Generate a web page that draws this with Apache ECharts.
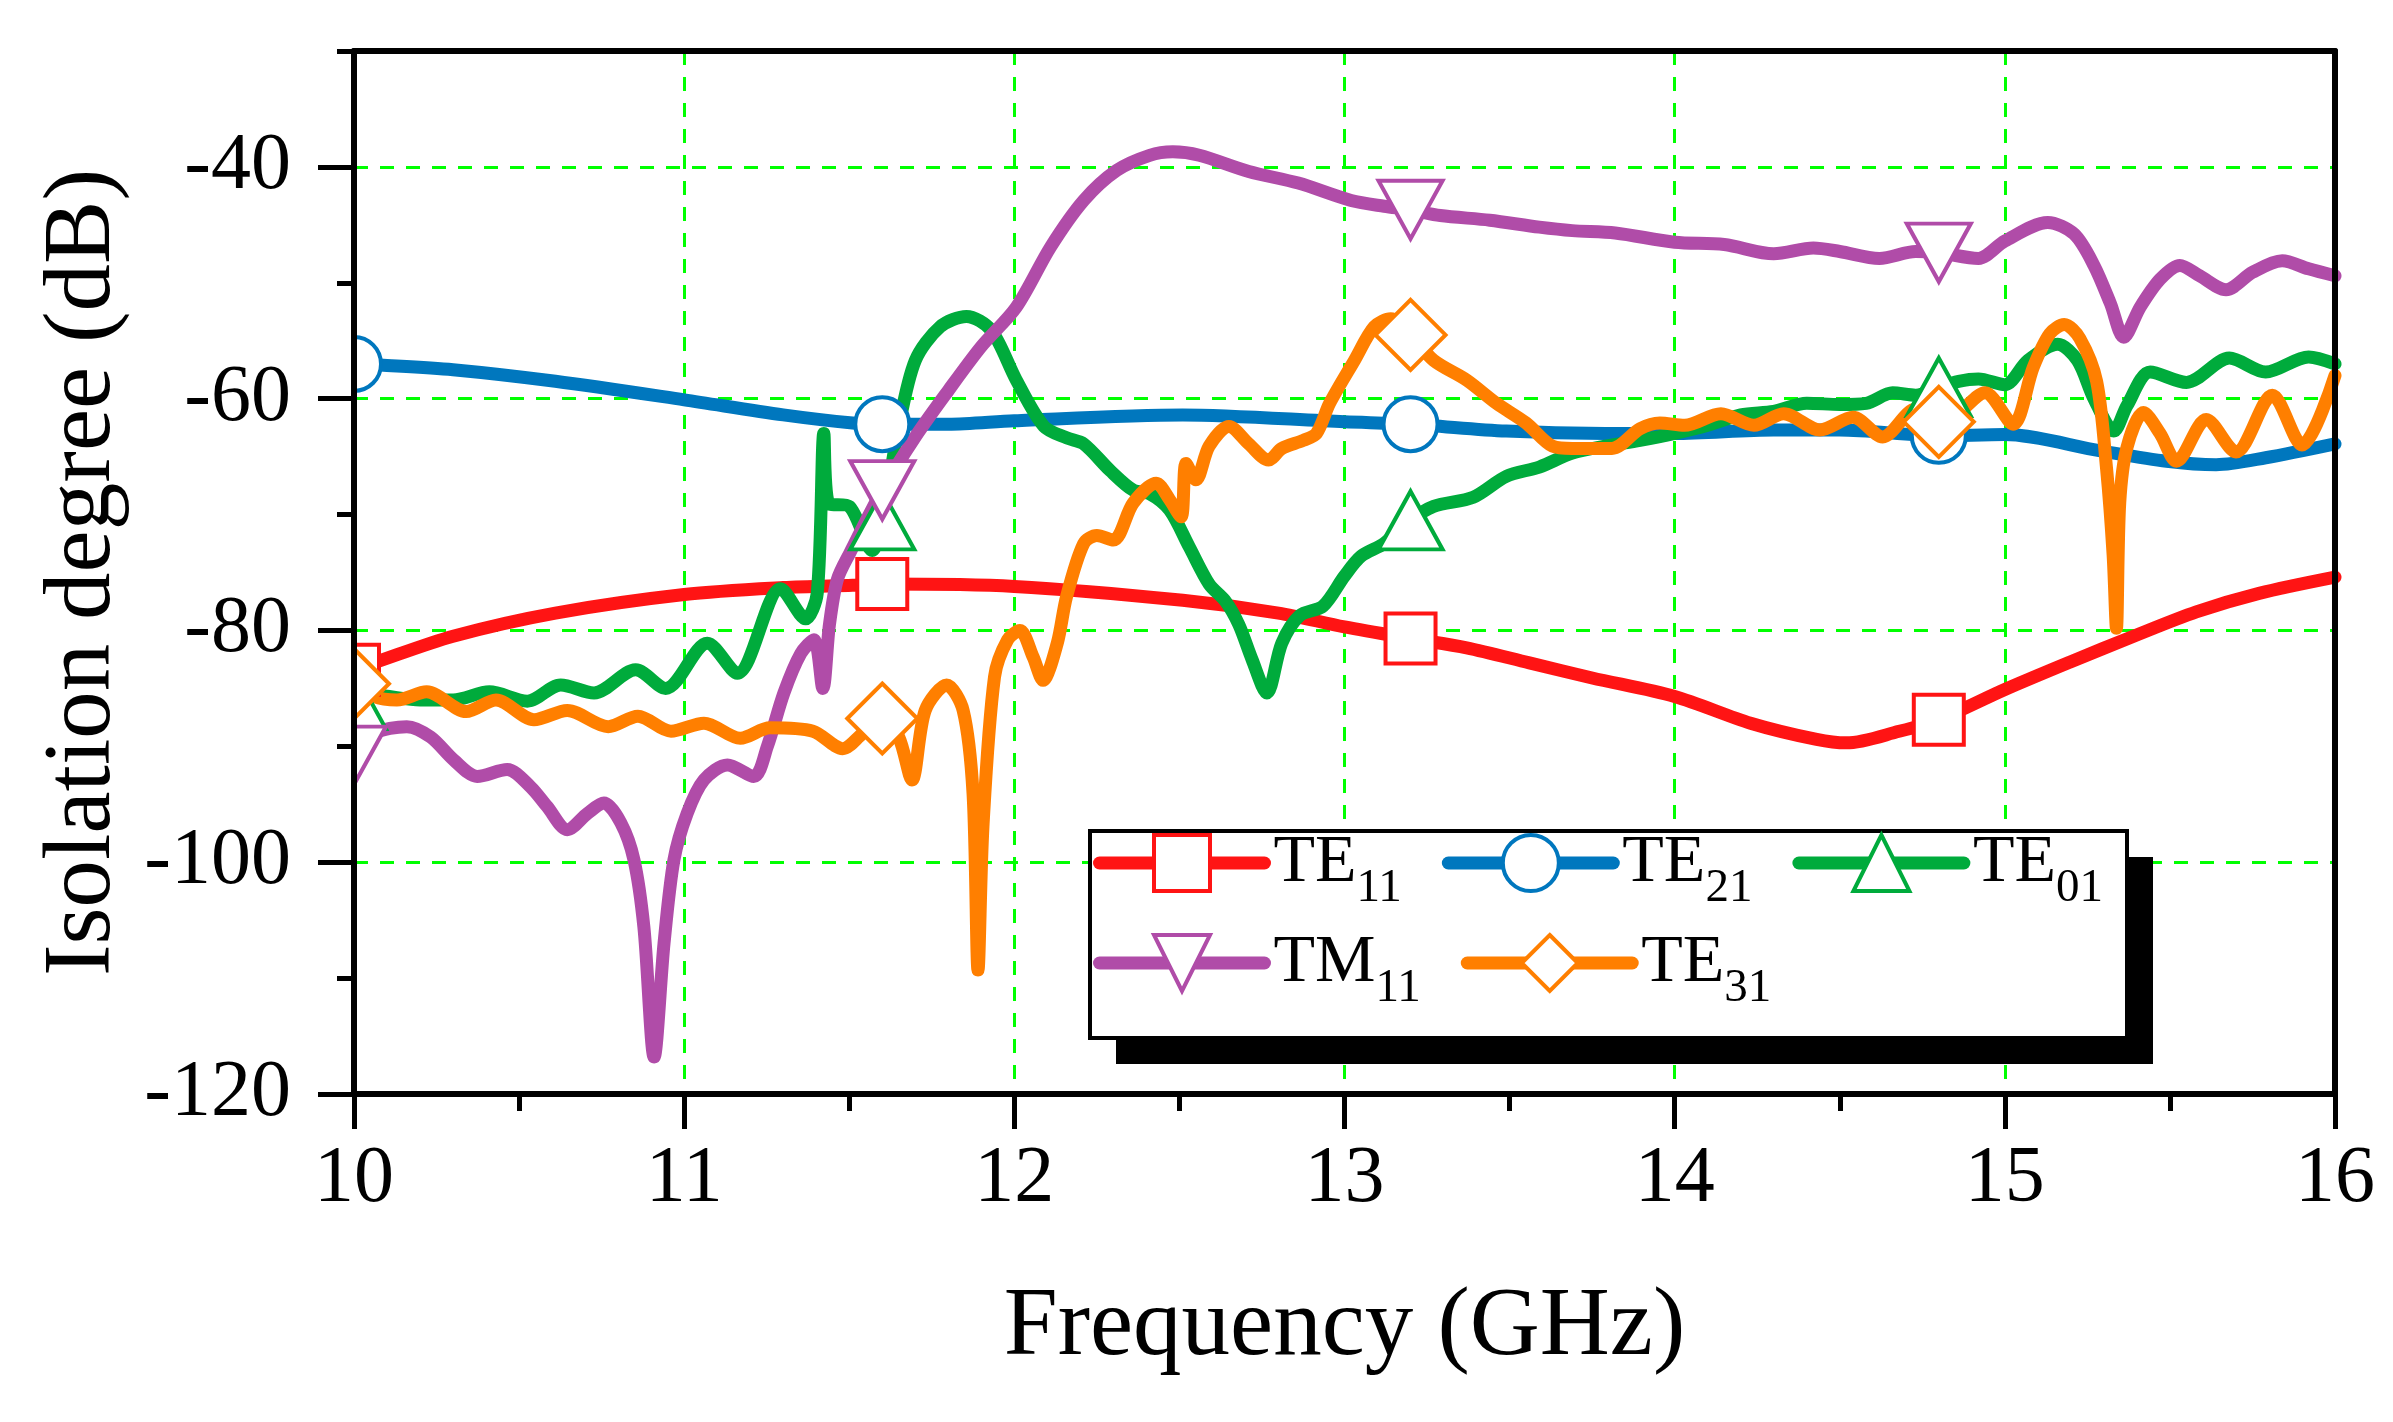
<!DOCTYPE html>
<html>
<head>
<meta charset="utf-8">
<script src="https://cdn.jsdelivr.net/npm/echarts@6/dist/echarts.min.js"></script>
<style>
  html, body { margin: 0; padding: 0; background: #fff; }
  #chart { width: 2393px; height: 1422px; }
</style>
</head>
<body>
<div id="chart"></div>
<script>
// frequencies where the hollow markers sit
var markerFreq = [10, 11.6, 13.2, 14.8];

// [frequency GHz, isolation dB]
var te11 = [[10, -83.4], [10.06, -82.8], [10.3, -80.5], [10.61, -78.5], [11.0, -76.9], [11.3, -76.3],
  [11.51, -76.1], [11.6, -76.0], [12.0, -76.2], [12.51, -77.4], [12.8, -78.5], [13.0, -79.7],
  [13.2, -80.7], [13.37, -81.5], [13.56, -82.8], [13.75, -84.1], [14.0, -85.7], [14.23, -88.0],
  [14.43, -89.4], [14.52, -89.7], [14.68, -88.7], [14.8, -87.7], [15.0, -85.1], [15.2, -82.7],
  [15.39, -80.5], [15.58, -78.4], [15.77, -76.8], [16.0, -75.4]];

var te21 = [[10, -57.0], [10.08, -57.1], [10.3, -57.5], [10.61, -58.5], [11.0, -60.1], [11.3, -61.4],
  [11.51, -62.1], [11.6, -62.2], [11.8, -62.2], [12.0, -61.9], [12.51, -61.4], [13.0, -62.0],
  [13.2, -62.2], [13.49, -62.8], [13.79, -63.0], [14.0, -63.0], [14.3, -62.7], [14.5, -62.7],
  [14.8, -63.2], [15.0, -63.1], [15.29, -64.5], [15.49, -65.4], [15.64, -65.7], [15.79, -65.1],
  [16.0, -63.9]];

var te01 = [[10, -86.0], [10.06, -85.6], [10.2, -86.0], [10.3, -86.0], [10.41, -85.3], [10.525, -86.1],
  [10.626, -84.7], [10.727, -85.4], [10.853, -83.4], [10.944, -85.0], [11.07, -81.1], [11.161, -83.7],
  [11.292, -76.4], [11.368, -79.0], [11.403, -76.8], [11.423, -63.0], [11.437, -69.0], [11.5, -69.3],
  [11.57, -73.1], [11.6, -70.5], [11.65, -62.4], [11.7, -56.7], [11.775, -53.8], [11.855, -52.9],
  [11.93, -54.1], [12.006, -58.4], [12.09, -62.4], [12.16, -63.4], [12.21, -63.9], [12.29, -66.2],
  [12.36, -67.9], [12.41, -68.2], [12.47, -69.6], [12.53, -72.8], [12.59, -76.0], [12.64, -77.5],
  [12.68, -79.5], [12.72, -82.5], [12.765, -85.4], [12.81, -81.1], [12.865, -78.7], [12.935, -77.9],
  [13.0, -75.3], [13.05, -73.6], [13.12, -72.5], [13.2, -70.5], [13.27, -69.3], [13.39, -68.5],
  [13.49, -66.7], [13.59, -65.9], [13.69, -64.7], [13.79, -64.1], [13.895, -63.6], [14.0, -63.0],
  [14.1, -62.3], [14.2, -61.4], [14.3, -61.1], [14.4, -60.4], [14.5, -60.5], [14.58, -60.4],
  [14.66, -59.5], [14.73, -59.7], [14.8, -59.0], [14.86, -58.5], [14.92, -58.3], [15.0, -58.8],
  [15.07, -56.7], [15.16, -55.3], [15.22, -56.7], [15.27, -60.0], [15.33, -62.8], [15.37, -60.6],
  [15.44, -57.7], [15.55, -58.6], [15.68, -56.5], [15.79, -57.7], [15.92, -56.4], [16.0, -57.0]];

var tm11 = [[10, -90.8], [10.06, -88.9], [10.16, -88.3], [10.232, -89.2], [10.303, -91.2], [10.373, -92.6],
  [10.464, -92.0], [10.535, -93.5], [10.585, -95.2], [10.646, -97.2], [10.707, -95.8], [10.757, -94.9],
  [10.808, -96.6], [10.848, -99.8], [10.878, -105.6], [10.909, -116.8], [10.939, -107.0], [10.969, -99.8],
  [11.009, -95.8], [11.06, -92.9], [11.131, -91.6], [11.211, -92.6], [11.252, -90.0], [11.302, -85.4],
  [11.353, -82.0], [11.393, -80.8], [11.42, -85.0], [11.44, -79.5], [11.464, -75.6], [11.502, -73.3],
  [11.6, -67.9], [11.7, -63.3], [11.8, -59.3], [11.9, -55.5], [12.006, -52.1], [12.11, -46.9],
  [12.21, -42.9], [12.31, -40.3], [12.41, -39.0], [12.48, -38.7], [12.56, -39.0], [12.71, -40.4],
  [12.86, -41.4], [13.02, -42.9], [13.12, -43.4], [13.2, -43.7], [13.29, -44.2], [13.44, -44.6],
  [13.59, -45.2], [13.69, -45.5], [13.82, -45.7], [14.0, -46.5], [14.15, -46.7], [14.3, -47.5],
  [14.42, -47.0], [14.5, -47.3], [14.62, -47.9], [14.73, -47.3], [14.8, -47.4], [14.92, -47.9],
  [15.0, -46.4], [15.13, -44.8], [15.21, -45.8], [15.27, -48.5], [15.32, -51.8], [15.36, -54.7],
  [15.41, -52.1], [15.47, -49.7], [15.53, -48.5], [15.59, -49.4], [15.67, -50.6], [15.75, -49.1],
  [15.84, -48.1], [15.92, -48.8], [16.0, -49.4]];

var te31 = [[10, -84.6], [10.06, -85.7], [10.13, -86.0], [10.22, -85.3], [10.34, -87.0], [10.43, -86.0],
  [10.545, -87.7], [10.646, -86.9], [10.77, -88.3], [10.86, -87.4], [10.96, -88.7], [11.06, -88.0],
  [11.17, -89.3], [11.26, -88.4], [11.39, -88.7], [11.48, -90.2], [11.54, -88.9], [11.6, -87.6],
  [11.65, -89.2], [11.69, -92.9], [11.73, -86.9], [11.795, -84.7], [11.845, -86.9], [11.875, -94.1],
  [11.89, -109.3], [11.905, -96.9], [11.94, -84.0], [11.98, -80.8], [12.017, -80.0], [12.057, -82.3],
  [12.087, -84.3], [12.13, -81.1], [12.158, -77.1], [12.21, -72.5], [12.25, -71.8], [12.3, -72.2],
  [12.36, -69.0], [12.43, -67.3], [12.47, -68.7], [12.505, -70.2], [12.52, -65.6], [12.55, -67.0],
  [12.59, -64.1], [12.65, -62.4], [12.71, -63.9], [12.77, -65.3], [12.81, -64.3], [12.875, -63.6],
  [12.915, -63.0], [12.955, -60.4], [13.03, -56.7], [13.09, -53.8], [13.14, -53.1], [13.2, -54.5],
  [13.27, -56.7], [13.37, -58.4], [13.46, -60.4], [13.55, -62.1], [13.63, -64.1], [13.69, -64.3],
  [13.81, -64.3], [13.895, -62.6], [13.955, -62.1], [14.03, -62.3], [14.14, -61.3], [14.24, -62.3],
  [14.33, -61.3], [14.44, -62.7], [14.54, -61.6], [14.63, -63.3], [14.73, -60.9], [14.8, -62.0],
  [14.86, -61.2], [14.94, -59.5], [15.025, -62.2], [15.086, -57.3], [15.136, -54.4], [15.18, -53.6],
  [15.227, -54.8], [15.278, -58.5], [15.308, -66.0], [15.328, -73.5], [15.338, -79.8], [15.348, -69.0],
  [15.37, -64.2], [15.42, -61.2], [15.47, -63.0], [15.52, -65.4], [15.61, -61.8], [15.7, -64.6],
  [15.81, -59.7], [15.9, -64.0], [16.0, -58.0]];

var yTicks = [-120, -100, -80, -60, -40];

var FONT = 'Liberation Serif';

function markersOf(data) {
    return markerFreq.map(function (f) {
        var p = data.find(function (d) { return d[0] === f; });
        return { coord: [f, p[1]] };
    });
}

function makeSeries(name, data, color, symbol, size, rotate) {
    return {
        name: name,
        type: 'line',
        data: data,
        smooth: 0.3,
        showSymbol: false,
        symbol: symbol,
        symbolRotate: rotate || 0,
        lineStyle: { color: color, width: 13, cap: 'round', join: 'round' },
        itemStyle: { color: '#fff', borderColor: color, borderWidth: 4 },
        emphasis: { disabled: true },
        markPoint: {
            silent: true,
            symbol: symbol,
            symbolSize: size,
            symbolRotate: rotate || 0,
            label: { show: false },
            itemStyle: { color: '#fff', borderColor: color, borderWidth: 4 },
            data: markersOf(data)
        }
    };
}

var legendText = {
    fontFamily: FONT,
    rich: {
        m: { fontFamily: FONT, fontSize: 68, color: '#000', padding: [0, 0, 0, 4] },
        s: { fontFamily: FONT, fontSize: 47, color: '#000', padding: [52, 0, 0, 0] }
    }
};
function legendFmt(name) {
    return '{m|' + name.slice(0, 2) + '}{s|' + name.slice(2) + '}';
}
function legendBase(names, top) {
    return {
        data: names,
        left: 1093,
        top: top,
        padding: 0,
        orient: 'horizontal',
        itemWidth: 165,
        itemHeight: 70,
        itemGap: 40,
        selectedMode: false,
        z: 12,
        formatter: legendFmt,
        textStyle: legendText,
        lineStyle: { width: 13 },
        itemStyle: { borderWidth: 4 }
    };
}

var chart = echarts.init(document.getElementById('chart'));

var blackLine = { color: '#000', width: 6 };
var gridLine = { color: '#00ff00', width: 3, type: [14, 12] };

var option = {
    animation: false,
    backgroundColor: '#fff',
    grid: { left: 354, top: 51, right: 58, bottom: 328, containLabel: false },
    xAxis: [{
        type: 'value', min: 10, max: 16, interval: 1,
        name: 'Frequency (GHz)', nameLocation: 'middle', nameGap: 186,
        nameTextStyle: { fontFamily: FONT, fontSize: 97, color: '#000' },
        axisLine: { onZero: false, lineStyle: blackLine },
        axisTick: { length: 35, lineStyle: { color: '#000', width: 5 } },
        minorTick: { show: true, splitNumber: 2, length: 17, lineStyle: { color: '#000', width: 5 } },
        axisLabel: { margin: 46, fontFamily: FONT, fontSize: 80, color: '#000' },
        splitLine: { show: true, showMinLine: false, showMaxLine: false, lineStyle: gridLine }
    }, {
        type: 'value', min: 10, max: 16, position: 'top', z: 6,
        axisLine: { onZero: false, lineStyle: blackLine },
        axisTick: { show: false }, axisLabel: { show: false }, splitLine: { show: false }
    }],
    yAxis: [{
        // grid lines only; the curves use this axis
        type: 'value', min: -120, max: -30, interval: 20,
        axisLine: { show: false }, axisTick: { show: false }, axisLabel: { show: false },
        splitLine: { show: true, showMinLine: false, showMaxLine: false, lineStyle: gridLine }
    }, {
        type: 'value', min: -120, max: -30, position: 'right', z: 6,
        axisLine: { onZero: false, lineStyle: blackLine },
        axisTick: { show: false }, axisLabel: { show: false }, splitLine: { show: false }
    }, {
        // minor ticks every 10 dB
        type: 'value', min: -120, max: -30, interval: 10, position: 'left', z: 7,
        axisLine: { show: false },
        axisTick: { show: true, length: 17, lineStyle: { color: '#000', width: 5 } },
        axisLabel: { show: false }, splitLine: { show: false }
    }, {
        type: 'value', min: -120, max: -30, interval: 20, position: 'left', z: 7,
        name: 'Isolation degree (dB)', nameLocation: 'middle', nameGap: 222,
        nameTextStyle: { fontFamily: FONT, fontSize: 95, color: '#000' },
        axisLine: { onZero: false, lineStyle: blackLine },
        axisTick: { customValues: yTicks, length: 36, lineStyle: { color: '#000', width: 5 } },
        axisLabel: { customValues: yTicks, margin: 63, fontFamily: FONT, fontSize: 80, color: '#000',
            formatter: function (v) { return v === -30 ? '' : String(v); } },
        splitLine: { show: false }
    }],
    legend: [
        legendBase(['TE11', 'TE21', 'TE01'], 829),
        legendBase(['TM11', 'TE31'], 929)
    ],
    graphic: [
        // hides the halves of the markers that fall left of the frame
        { type: 'rect', z: 6, silent: true, shape: { x: 296, y: 45, width: 55, height: 1049 },
          style: { fill: '#fff' } },
        { type: 'rect', z: 10, shape: { x: 1116, y: 857, width: 1037, height: 207 },
          style: { fill: '#000' } },
        { type: 'rect', z: 10, shape: { x: 1090, y: 831, width: 1037, height: 207 },
          style: { fill: '#fff', stroke: '#000', lineWidth: 4 } }
    ],
    series: [
        makeSeries('TE11', te11, '#ff1414', 'rect', 50),
        makeSeries('TE21', te21, '#0077be', 'circle', 54),
        makeSeries('TE01', te01, '#00ab3c', 'triangle', [64, 58]),
        makeSeries('TM11', tm11, '#b04ca8', 'triangle', [64, 58], 180),
        makeSeries('TE31', te31, '#ff7f00', 'diamond', 70)
    ]
};

chart.setOption(option);
</script>
</body>
</html>
